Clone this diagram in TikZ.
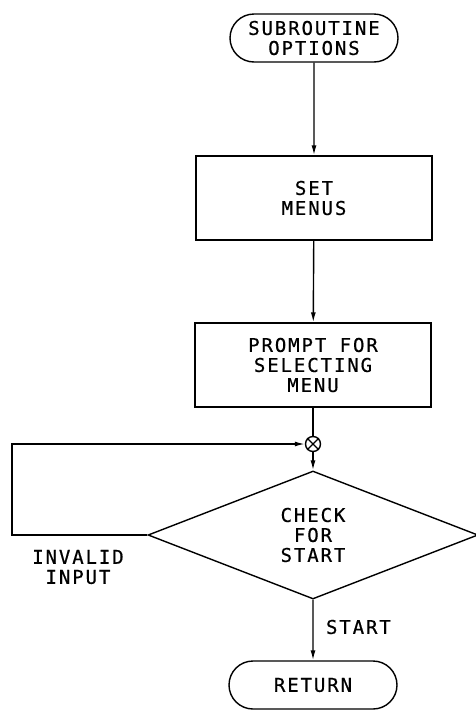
\documentclass[tikz,border=0pt]{standalone}
\usepackage{fontspec}
\usepackage{tikz}
\usetikzlibrary{arrows.meta,shapes.geometric,shapes.misc}
\newfontfamily\plotfont[LetterSpace=10,FakeBold=0.6]{DejaVu Sans Mono}

\begin{document}
\begin{tikzpicture}[x=1pt,y=-1pt,line width=1.4pt,
    every node/.style={font=\plotfont\fontsize{19}{20}\selectfont,align=center},
    terminal/.style={draw,rounded rectangle,minimum width=168pt,minimum height=48pt,inner sep=0pt},
    process/.style={draw,rectangle,minimum width=236pt,minimum height=84pt,inner sep=0pt},
    decision/.style={draw,diamond,aspect=2.6,minimum width=330pt,minimum height=128pt,inner sep=0pt},
    junction/.style={draw,circle,minimum size=15pt,inner sep=0pt},
    flow/.style={-{Latex[length=10pt,width=5pt]}}]
    \useasboundingbox (0,0) rectangle (476,710);
    \node[terminal] (start) at (314,38) {SUBROUTINE\\OPTIONS};
    \node[process] (menus) at (314,198) {SET\\MENUS};
    \node[process] (prompt) at (313,365) {PROMPT FOR\\SELECTING\\MENU};
    \node[junction] (join) at (313,444) {};
    \draw (join.north east) -- (join.south west) (join.north west) -- (join.south east);
    \node[decision] (check) at (313,535) {CHECK\\FOR\\START};
    \node[terminal] (return) at (313,685) {RETURN};
    \coordinate (loop) at (12,535);
    \draw[flow] (start) -- (menus);
    \draw[flow] (menus) -- (prompt);
    \draw (prompt) -- (join);
    \draw[flow] (join) -- (check);
    \draw[flow] (check.west) -- (loop) |- (join.west);
    \draw[flow] (check.south) -- (return);
    \node[anchor=west] (startlbl) at (322,627) {START};
    \node (invalid) at (78,567) {INVALID\\INPUT};
\end{tikzpicture}
\end{document}
